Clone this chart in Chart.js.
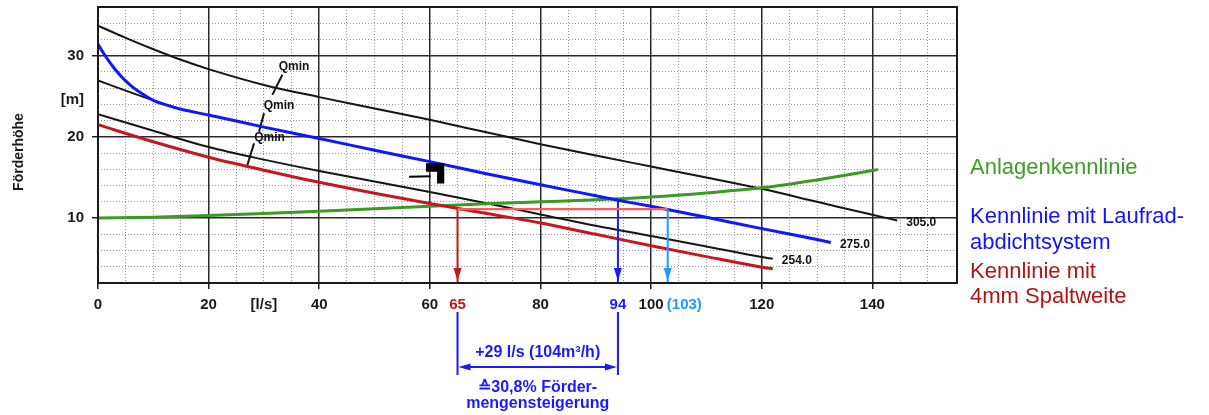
<!DOCTYPE html>
<html>
<head>
<meta charset="utf-8">
<script src="https://cdn.jsdelivr.net/npm/chart.js@4/dist/chart.umd.min.js"></script>
<style>
html,body{margin:0;padding:0;background:#fff;}
#wrap{width:1209px;height:415px;position:relative;}
</style>
</head>
<body>
<div id="wrap"><canvas id="c" width="1209" height="415"></canvas></div>
<script>
// ---------- data ----------
// impeller curve 305.0 (black)
const q305 = [0, 5, 10, 15, 20, 30, 40, 50, 60, 70, 80, 90, 100, 110, 120, 130, 140, 144.5];
const h305 = [33.7, 32.2, 30.8, 29.5, 28.35, 26.4, 24.9, 23.5, 22.1, 20.6, 19.1, 17.7, 16.35, 15.0, 13.6, 12.0, 10.4, 9.7];
// impeller curve 275.0 (black, visible only at small flows)
const q275 = [0, 5, 10, 15];
const h275 = [26.95, 25.7, 24.5, 23.4];
// impeller curve 254.0 (black)
const q254 = [0, 10, 20, 30, 40, 50, 60, 70, 80, 90, 100, 110, 120, 122];
const h254 = [22.8, 20.75, 18.75, 17.2, 15.8, 14.5, 13.2, 11.85, 10.45, 9.05, 7.8, 6.5, 5.2, 4.98];
// Kennlinie mit Laufrad-abdichtsystem (blue)
const qSeal = [0, 1, 2, 3, 4, 5, 6.5, 8, 10, 12, 15, 20, 30, 40, 50, 60, 70, 80, 90, 94, 100, 110, 120, 130, 132.5];
const hSeal = [31.4, 30.3, 29.3, 28.4, 27.6, 26.9, 26.0, 25.3, 24.5, 24.0, 23.4, 22.7, 21.2, 19.8, 18.35, 16.95, 15.5, 14.1, 12.75, 12.2, 11.45, 10.1, 8.7, 7.35, 7.0];
// Kennlinie mit 4mm Spaltweite (red)
const qGap = [0, 10, 20, 30, 40, 50, 60, 70, 80, 90, 100, 110, 120, 122];
const hGap = [21.5, 19.4, 17.5, 15.9, 14.4, 13.05, 11.8, 10.6, 9.4, 8.0, 6.6, 5.25, 3.95, 3.74];
// Anlagenkennlinie (green)
const qSys = [0, 10, 20, 30, 40, 50, 60, 70, 80, 90, 100, 110, 120, 130, 140, 141];
const hSys = [10.0, 10.1, 10.3, 10.55, 10.85, 11.15, 11.45, 11.75, 12.0, 12.25, 12.6, 13.1, 13.72, 14.7, 15.85, 15.98];
const curveLabels = ['305.0', '275.0', '254.0'];

// operating points
const opFlows = [65, 94, 103];
const opHeads = [11.1, 12.28, 11.1];

// Qmin markers (short strokes) and their text
const qminFrom = [[33.33, 27.65], [30.02, 22.91], [28.21, 19.2]];
const qminTo   = [[31.52, 25.18], [29.11, 20.64], [27.0, 16.52]];
const qminText = [[35.44, 28.6], [32.73, 23.82], [31.01, 19.94]];

// small black symbol in the plot
const symbolShape = [[59.3, 16.75], [62.6, 16.75], [62.6, 14.25], [61.3, 14.25], [61.3, 15.7], [59.3, 15.7]];
const symbolStroke = [[56.24, 15.1], [60.16, 15.15]];

// axis tick labels
const xLabelValues = [0, 20, 30, 40, 60, 65, 80, 94, 100, 106, 120, 140];
const xLabelTexts  = ['0', '20', '[l/s]', '40', '60', '65', '80', '94', '100', '(103)', '120', '140'];
const yLabelValues = [10, 20, 24.6, 30];
const yLabelTexts  = ['10', '20', '[m]', '30'];
const yTitle = 'Förderhöhe';

// texts
const legendTexts = ['Anlagenkennlinie', 'Kennlinie mit Laufrad-', 'abdichtsystem', 'Kennlinie mit', '4mm Spaltweite'];
const deltaTexts = ['+29 l/s (104m\u00B3/h)', '\u225930,8% F\u00F6rder-', 'mengensteigerung'];

// ---------- styling ----------
const FONT = "'Liberation Sans', Arial, Helvetica, sans-serif";
const C_BLUE = '#0c18ff', C_RED = '#c8161e', C_GREEN = '#3a9a22', C_BLACK = '#151515', C_LBLUE = '#1e9bff', C_SALMON = '#ff5a5a';
const labelColor = {'65': '#c0181c', '94': '#1a1aff', '(103)': '#1e9bff'};

function pts(q, h) { return q.map((v, i) => ({x: v, y: h[i]})); }
function near(a, b) { return Math.abs(a - b) < 1e-6; }
function xLabel(v) { const i = xLabelValues.findIndex(t => near(t, v)); return i < 0 ? '' : xLabelTexts[i]; }
function yLabel(v) { const i = yLabelValues.findIndex(t => near(t, v)); return i < 0 ? '' : yLabelTexts[i]; }

const xTicks = [];
for (let v = 0; v <= 155; v += 5) xTicks.push(v);
xLabelValues.forEach(v => { if (!xTicks.some(t => near(t, v))) xTicks.push(v); });
xTicks.sort((a, b) => a - b);
const yTicks = [];
for (let v = 2; v <= 36; v += 2) yTicks.push(v);
yLabelValues.forEach(v => { if (!yTicks.some(t => near(t, v))) yTicks.push(v); });
yTicks.sort((a, b) => a - b);

function isGridX(v) { return near(v % 5, 0) && v < 155; }
function isGridY(v) { return near(v % 2, 0); }

const line = (data, color, width, extra) => Object.assign({
  data, borderColor: color, backgroundColor: color, borderWidth: width,
  pointRadius: 0, pointHoverRadius: 0, fill: false, cubicInterpolationMode: 'monotone'
}, extra || {});

const datasets = [
  // arrows (topmost)
  line([{x: opFlows[0], y: opHeads[0]}, {x: opFlows[2], y: opHeads[2]}], C_SALMON, 2.2, {}),
  line([{x: opFlows[0], y: opHeads[0]}, {x: opFlows[0], y: 2}], '#c0181c', 2, {arrow: true}),
  line([{x: opFlows[1], y: opHeads[1]}, {x: opFlows[1], y: 2}], '#1a1aff', 2, {arrow: true}),
  line([{x: opFlows[2], y: opHeads[2]}, {x: opFlows[2], y: 2}], C_LBLUE, 2, {arrow: true}),
  // curves
  line(pts(qSeal, hSeal), C_BLUE, 3, {endLabel: curveLabels[1]}),
  line(pts(qGap, hGap), C_RED, 3),
  line(pts(qSys, hSys), C_GREEN, 3),
  line(pts(q305, h305), C_BLACK, 2, {endLabel: curveLabels[0]}),
  line(pts(q275, h275), C_BLACK, 2),
  line(pts(q254, h254), C_BLACK, 2, {endLabel: curveLabels[2]}),
  // Qmin strokes
  ...qminFrom.map((p, i) => line([{x: p[0], y: p[1]}, {x: qminTo[i][0], y: qminTo[i][1]}], C_BLACK, 2))
];

function arrowHead(ctx, x, y, dx, dy, len, half, color) {
  const n = Math.hypot(dx, dy); dx /= n; dy /= n;
  ctx.fillStyle = color;
  ctx.beginPath();
  ctx.moveTo(x, y);
  ctx.lineTo(x - dx * len - dy * half, y - dy * len + dx * half);
  ctx.lineTo(x - dx * len + dy * half, y - dy * len - dx * half);
  ctx.closePath();
  ctx.fill();
}

const extras = {
  id: 'extras',
  afterDraw(chart) {
    const {ctx, chartArea: a, scales: {x, y}} = chart;
    ctx.save();
    // frame
    ctx.strokeStyle = '#1a1a1a';
    ctx.lineWidth = 2;
    ctx.strokeRect(a.left, a.top, a.right - a.left, a.bottom - a.top);

    // arrowheads and end labels
    chart.data.datasets.forEach((ds, i) => {
      const meta = chart.getDatasetMeta(i);
      const els = meta.data;
      if (ds.arrow) {
        const p0 = els[els.length - 2], p1 = els[els.length - 1];
        arrowHead(ctx, p1.x, p1.y - 2, p1.x - p0.x, p1.y - p0.y, 13, 4, ds.borderColor);
      }
      if (ds.endLabel) {
        const p = els[els.length - 1];
        ctx.fillStyle = '#111';
        ctx.font = 'bold 12px ' + FONT;
        ctx.textAlign = 'left';
        ctx.textBaseline = 'middle';
        ctx.fillText(ds.endLabel, p.x + 9, p.y + 2);
      }
    });

    // Qmin texts
    ctx.fillStyle = '#111';
    ctx.font = 'bold 12px ' + FONT;
    ctx.textAlign = 'center';
    ctx.textBaseline = 'middle';
    qminText.forEach(p => ctx.fillText('Qmin', x.getPixelForValue(p[0]), y.getPixelForValue(p[1])));

    // small symbol
    ctx.fillStyle = '#000';
    ctx.beginPath();
    symbolShape.forEach((p, i) => {
      const px = x.getPixelForValue(p[0]), py = y.getPixelForValue(p[1]);
      if (i === 0) ctx.moveTo(px, py); else ctx.lineTo(px, py);
    });
    ctx.closePath();
    ctx.fill();
    ctx.strokeStyle = '#000';
    ctx.lineWidth = 2;
    ctx.beginPath();
    ctx.moveTo(x.getPixelForValue(symbolStroke[0][0]), y.getPixelForValue(symbolStroke[0][1]));
    ctx.lineTo(x.getPixelForValue(symbolStroke[1][0]), y.getPixelForValue(symbolStroke[1][1]));
    ctx.stroke();

    // y axis title
    ctx.save();
    ctx.translate(19, 152);
    ctx.rotate(-Math.PI / 2);
    ctx.fillStyle = '#1a1a1a';
    ctx.font = 'bold 14px ' + FONT;
    ctx.textAlign = 'center';
    ctx.textBaseline = 'middle';
    ctx.fillText(yTitle, 0, 0);
    ctx.restore();

    // bottom delta annotation
    const xa = x.getPixelForValue(opFlows[0]), xb = x.getPixelForValue(opFlows[1]);
    ctx.strokeStyle = '#1a1aff';
    ctx.lineWidth = 2;
    ctx.beginPath();
    ctx.moveTo(xa, 312); ctx.lineTo(xa, 375);
    ctx.moveTo(xb, 312); ctx.lineTo(xb, 375);
    ctx.moveTo(xa + 6, 367); ctx.lineTo(xb - 6, 367);
    ctx.stroke();
    arrowHead(ctx, xa + 1, 367, -1, 0, 12, 3.5, '#1a1aff');
    arrowHead(ctx, xb - 1, 367, 1, 0, 12, 3.5, '#1a1aff');
    const xm = (xa + xb) / 2;
    ctx.fillStyle = '#1a1aff';
    ctx.font = 'bold 16px ' + FONT;
    ctx.textAlign = 'center';
    ctx.textBaseline = 'alphabetic';
    ctx.fillText(deltaTexts[0], xm, 357);
    ctx.fillText(deltaTexts[1], xm, 391.5);
    ctx.fillText(deltaTexts[2], xm, 408);

    // right-hand legend texts
    ctx.textAlign = 'left';
    ctx.font = '22px ' + FONT;
    const lx = 970;
    ctx.fillStyle = '#3f9b2a'; ctx.fillText(legendTexts[0], lx, 174);
    ctx.fillStyle = '#1414f0'; ctx.fillText(legendTexts[1], lx, 223); ctx.fillText(legendTexts[2], lx, 249);
    ctx.fillStyle = '#b01515'; ctx.fillText(legendTexts[3], lx, 277.5); ctx.fillText(legendTexts[4], lx, 303);
    ctx.restore();
  }
};

new Chart(document.getElementById('c'), {
  type: 'line',
  data: {datasets},
  options: {
    responsive: false,
    devicePixelRatio: 1,
    animation: false,
    events: [],
    layout: {padding: {top: 7, right: 252, bottom: 0, left: 0}},
    plugins: {legend: {display: false}, tooltip: {enabled: false}, title: {display: false}},
    scales: {
      x: {
        type: 'linear', min: 0, max: 155.3,
        afterBuildTicks: s => { s.ticks = xTicks.map(v => ({value: v})); },
        afterFit: s => { s.height = 132; s.paddingLeft = 0; s.paddingRight = 0; },
        ticks: {
          autoSkip: false, maxRotation: 0, minRotation: 0, padding: 7,
          font: {family: FONT, size: 15, weight: 'bold'},
          color: c => (c.tick && labelColor[xLabel(c.tick.value)]) || '#1a1a1a',
          callback: v => xLabel(v)
        },
        grid: {
          color: c => {
            if (!c.tick || !isGridX(c.tick.value)) return 'rgba(0,0,0,0)';
            return near(c.tick.value % 20, 0) ? '#2a2a2a' : 'rgba(60,60,60,0.55)';
          },
          lineWidth: c => (c.tick && near(c.tick.value % 20, 0)) ? 1.5 : 1,
          tickLength: 6,
          tickWidth: 1.5,
          tickColor: c => (c.tick && near(c.tick.value % 20, 0) && c.tick.value <= 140) ? '#1a1a1a' : 'rgba(0,0,0,0)'
        },
        border: {display: false, dash: c => (c.tick && !near(c.tick.value % 20, 0)) ? [1, 2] : []}
      },
      y: {
        type: 'linear', min: 2, max: 36,
        afterBuildTicks: s => { s.ticks = yTicks.map(v => ({value: v})); },
        afterFit: s => { s.width = 98; s.paddingTop = 0; s.paddingBottom = 0; },
        ticks: {
          autoSkip: false, padding: 8,
          font: {family: FONT, size: 15, weight: 'bold'},
          color: '#1a1a1a',
          callback: v => yLabel(v)
        },
        grid: {
          color: c => {
            if (!c.tick || !isGridY(c.tick.value)) return 'rgba(0,0,0,0)';
            return near(c.tick.value % 10, 0) ? '#2a2a2a' : 'rgba(60,60,60,0.55)';
          },
          lineWidth: c => (c.tick && near(c.tick.value % 10, 0)) ? 1.5 : 1,
          tickLength: 6,
          tickWidth: 1.5,
          tickColor: c => (c.tick && near(c.tick.value % 10, 0) && c.tick.value < 36) ? '#1a1a1a' : 'rgba(0,0,0,0)'
        },
        border: {display: false, dash: c => (c.tick && !near(c.tick.value % 10, 0)) ? [1, 2] : []}
      }
    }
  },
  plugins: [extras]
});
</script>
</body>
</html>
